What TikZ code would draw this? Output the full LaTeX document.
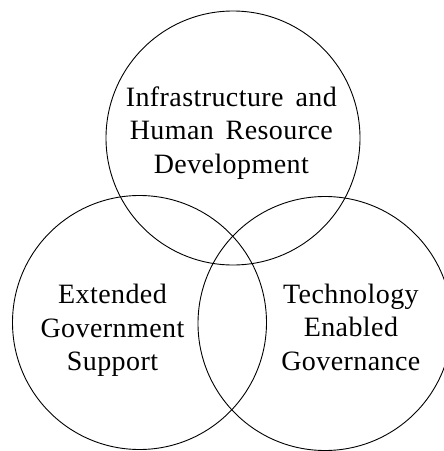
\documentclass[tikz,border=0pt]{standalone}
\usepackage{fontspec}
\setmainfont{Liberation Serif}[LetterSpace=1.5,WordSpace=1.6]
\begin{document}
\begin{tikzpicture}[x=1pt,y=-1pt,
  ring/.style={draw=black,line width=0.9pt,circle,minimum size=254pt,inner sep=0pt},
  lbl/.style={align=center,font=\fontsize{28}{33.5}\selectfont,inner sep=0pt}]
\useasboundingbox (0,0) rectangle (444,451);
\node[ring] (top) at (233,138) {};
\node[ring] (left) at (139.5,322.5) {};
\node[ring] (right) at (325,323.5) {};
\node[lbl] (ttop) at (231.3,133) {Infrastructure and\\Human Resource\\Development};
\node[lbl] (tleft) at (112.5,330.5) {Extended\\Government\\Support};
\node[lbl] (tright) at (350.9,327.3) {Technology\\Enabled\\Governance};
\end{tikzpicture}
\end{document}
